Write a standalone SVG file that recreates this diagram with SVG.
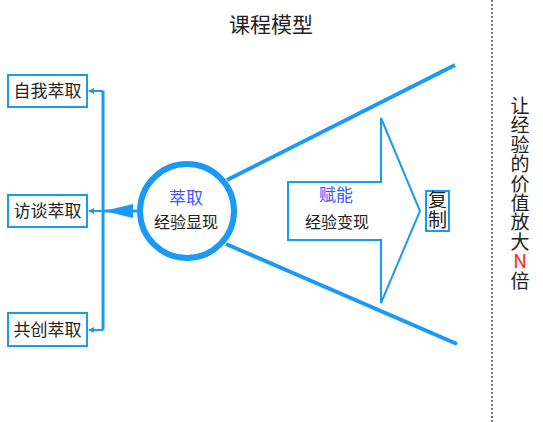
<svg xmlns="http://www.w3.org/2000/svg" width="543" height="422" viewBox="0 0 543 422">
<style>
text{font-family:"Noto Sans CJK SC","Microsoft YaHei",sans-serif;fill:#222;}
.box{fill:#fff;stroke:#1a9af5;stroke-width:2;}
.lbl{font-size:17px;text-anchor:middle;}
.blue{stroke:#1a9af5;fill:none;}
.hi{fill:#3c55ff;}
</style>
<defs>
<marker id="sm" viewBox="0 0 6 6" refX="5" refY="3" markerWidth="6" markerHeight="6" markerUnits="userSpaceOnUse" orient="auto">
<path d="M0,0 L6,3 L0,6 Z" fill="#1a9af5"/>
</marker>
</defs>
<rect width="543" height="422" fill="#fff"/>
<text x="271" y="32" font-size="21" text-anchor="middle">课程模型</text>
<g id="connectors">
<line class="blue" x1="103" y1="91" x2="103" y2="330" stroke-width="3"/>
<line class="blue" x1="103" y1="91" x2="89" y2="91" stroke-width="2" marker-end="url(#sm)"/>
<line class="blue" x1="103" y1="211" x2="89" y2="211" stroke-width="2" marker-end="url(#sm)"/>
<line class="blue" x1="103" y1="330" x2="89" y2="330" stroke-width="2" marker-end="url(#sm)"/>
<line class="blue" x1="140" y1="211" x2="103" y2="211" stroke-width="3"/>
<polygon points="104,211 133,204 133,218" fill="#1a9af5"/>
<line class="blue" x1="227" y1="180" x2="455" y2="65" stroke-width="4"/>
<line class="blue" x1="226" y1="244" x2="457" y2="344" stroke-width="4"/>
</g>
<g id="n-self">
<rect class="box" x="8" y="75" width="79" height="32"/>
<text class="lbl" x="47.5" y="97">自我萃取</text>
</g>
<g id="n-interview">
<rect class="box" x="8" y="195" width="79" height="32"/>
<text class="lbl" x="47.5" y="217">访谈萃取</text>
</g>
<g id="n-cocreate">
<rect class="box" x="8" y="313" width="79" height="33"/>
<text class="lbl" x="47.5" y="336">共创萃取</text>
</g>
<g id="n-extract">
<circle cx="187" cy="211" r="47" fill="#fff" stroke="#1a9af5" stroke-width="6"/>
<text class="lbl hi" x="186" y="204">萃取</text>
<text x="186" y="228" font-size="16" text-anchor="middle">经验显现</text>
</g>
<g id="n-enable">
<polygon points="288,182 381,182 381,118 420,211 381,303 381,240 288,240" fill="#fff" stroke="#1a9af5" stroke-width="2"/>
<text class="lbl hi" x="336" y="201">赋能</text>
<text x="337" y="228" font-size="16" text-anchor="middle">经验变现</text>
</g>
<g id="n-copy">
<rect class="box" x="426" y="191" width="23" height="40"/>
<text x="437.5" y="207" font-size="19" text-anchor="middle">复</text>
<text x="437.5" y="227" font-size="19" text-anchor="middle">制</text>
</g>
<line x1="492" y1="0" x2="492" y2="422" stroke="#777" stroke-width="2" stroke-dasharray="2 2"/>
<g id="n-slogan">
<text x="520" y="113" font-size="19" text-anchor="middle">让<tspan x="520" dy="19.4">经</tspan><tspan x="520" dy="19.4">验</tspan><tspan x="520" dy="19.4">的</tspan><tspan x="520" dy="19.4">价</tspan><tspan x="520" dy="19.4">值</tspan><tspan x="520" dy="19.4">放</tspan><tspan x="520" dy="19.4">大</tspan><tspan x="520" dy="19.4" style="fill:#ff2a00">N</tspan><tspan x="520" dy="19.4">倍</tspan></text>
</g>
</svg>
